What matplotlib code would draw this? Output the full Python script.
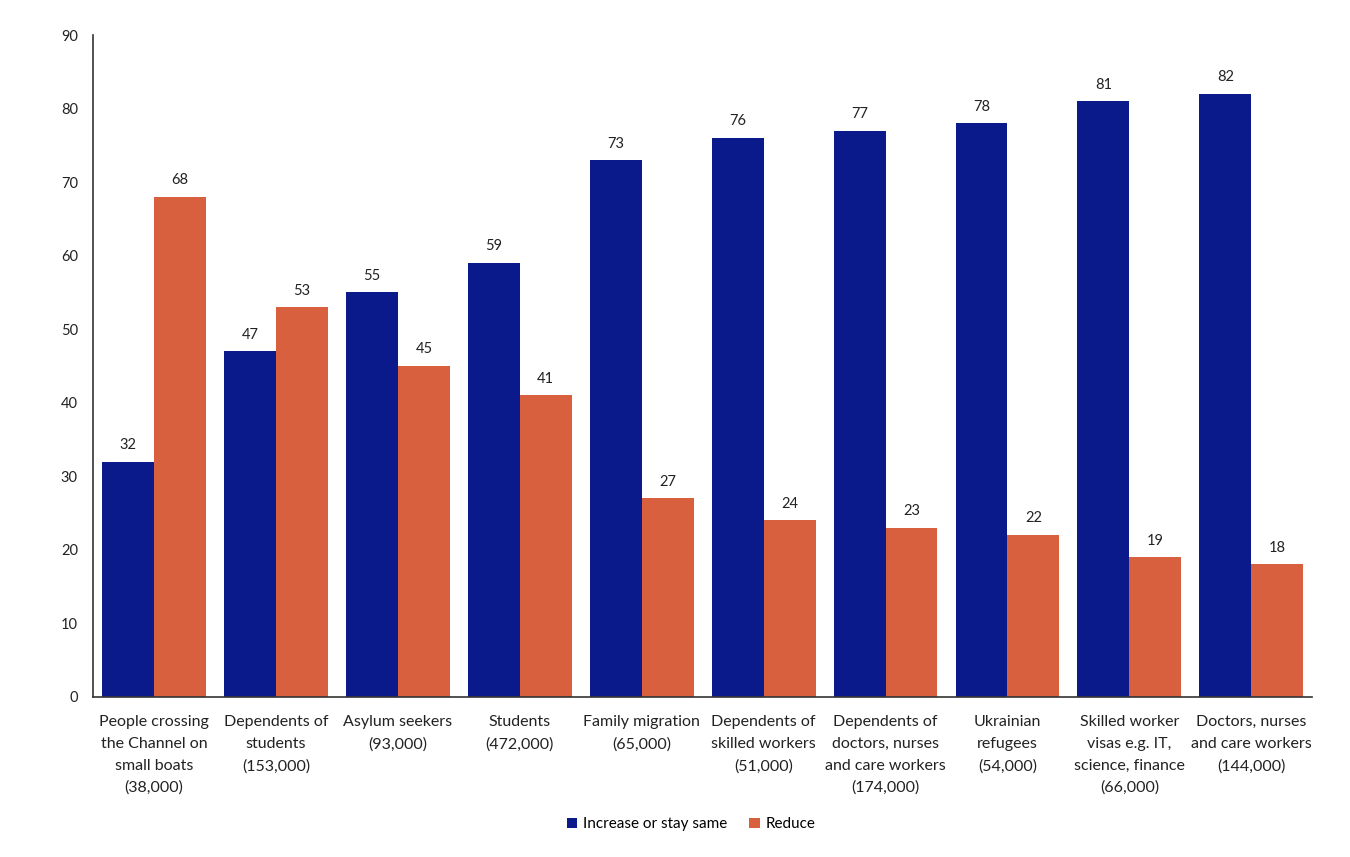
import matplotlib
matplotlib.use("Agg")
import matplotlib.pyplot as plt
import numpy as np

categories = [
    "People crossing\nthe Channel on\nsmall boats\n(38,000)",
    "Dependents of\nstudents\n(153,000)",
    "Asylum seekers\n(93,000)",
    "Students\n(472,000)",
    "Family migration\n(65,000)",
    "Dependents of\nskilled workers\n(51,000)",
    "Dependents of\ndoctors, nurses\nand care workers\n(174,000)",
    "Ukrainian\nrefugees\n(54,000)",
    "Skilled worker\nvisas e.g. IT,\nscience, finance\n(66,000)",
    "Doctors, nurses\nand care workers\n(144,000)",
]
increase = [32, 47, 55, 59, 73, 76, 77, 78, 81, 82]
reduce_ = [68, 53, 45, 41, 27, 24, 23, 22, 19, 18]
series_names = ["Increase or stay same", "Reduce"]
yticks = [0, 10, 20, 30, 40, 50, 60, 70, 80, 90]

plt.rcParams['font.family'] = ['Lato', 'DejaVu Sans']
blue = "#0b1a8a"
orange = "#d9603e"

fig = plt.figure(figsize=(13.5, 8.57), dpi=100)
ax = fig.add_axes([0.069, 0.187, 0.903, 0.772])

x = np.arange(len(categories))
w = 0.426
b1 = ax.bar(x - w/2, increase, w, color=blue, label=series_names[0])
b2 = ax.bar(x + w/2, reduce_, w, color=orange, label=series_names[1])
for bars, vals in ((b1, increase), (b2, reduce_)):
    for r, v in zip(bars, vals):
        ax.text(r.get_x() + r.get_width()/2, v + 1.3, str(v), ha='center', va='bottom',
                fontsize=10.5, color='#222222')

ax.set_xlim(-0.5, len(categories) - 0.5)
ax.set_ylim(0, 90)
ax.set_yticks(yticks)
ax.set_yticklabels([str(t) for t in yticks], fontsize=10.5, color='#222222')
ax.set_xticks(x)
ax.set_xticklabels(categories, fontsize=11.5, color='#222222', linespacing=1.72)
ax.tick_params(axis='both', length=0)
ax.tick_params(axis='y', pad=11)
ax.tick_params(axis='x', pad=13)
for s in ['top', 'right']:
    ax.spines[s].set_visible(False)
ax.spines['left'].set_color('#333333')
ax.spines['bottom'].set_color('#333333')
ax.spines['left'].set_linewidth(1.2)
ax.spines['bottom'].set_linewidth(1.2)

fig.legend(handles=[b1, b2], labels=series_names, loc='center', bbox_to_anchor=(0.512, 0.038),
           ncol=2, frameon=False, fontsize=11, handlelength=0.7, handleheight=0.7,
           handletextpad=0.4, columnspacing=1.4)

fig.savefig("out.png", dpi=100)
